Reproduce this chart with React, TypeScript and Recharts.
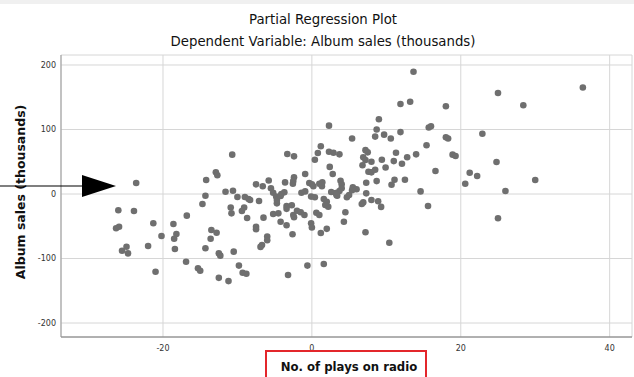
import { ScatterChart, Scatter, XAxis, YAxis, CartesianGrid } from 'recharts';

// residual values: x = plays on radio, y = album sales
const radioPlays = [
  13.65, 11.9, 13.2, 18, 2.3, 9, 8.7, 8.5, 9.7, 10.6, 11.9, 15.7, 16, 18, 18.3, 5.4, 15.4, 1.2, 0.8, 0.4,
  2.3, 2.9, 3.7, -3.3, -2.4, 7.2, 7.5, 6.9, 7.2, 6.8, 8, 9.4, 9.9, 11.3, 11, 12.1, 12.8, 14, 16.6, 2.4,
  2.8, -0.9, 7.6, 8, 8.5, 7.3, 8.7, 11.1, 10.7, 12.5, 14.6, -2.4, -2.5, -2.55, -3.6, -7.5, -6.6, -5.8, -5.5, -0.35,
  0, 1, 1.35, 0.2, 1.4, 3.85, 4, 4, 3.7, 5.5, 6, 5.4, 7.3, 2.6, 3.2, 3.4, -1.4, -0.9, -3.7, -4.1,
  -5.2, -4.8, -10.7, -12.9, -12.7, -14.2, -23.6, -11.6, -10.6, -14.3, -10, -9, -8.5, 25, 36.4, 28.4, 22.9, 18.9, 19.3, 24.8,
  21.2, 22.2, 20.6, 30, 26, 25, 15.6, 10.4, 7.2, 8, 8.9, 9.3, 6.7, 6.9, 4.5, 4.3, 4.7, 5, 3.3, 2,
  1.2, 1.6, 2, 2.2, 1.8, 0.6, 1, -0.1, 0, -0.6, 1.6, -3.2, -0.1, 0.4, -2.6, -3.4, -2.7, -3.4, -2.5, -2.4,
  -2, -1.5, -1, -4.2, -3.4, -5.2, -4.5, -4.7, -4.7, -4.2, -6.5, -7.5, -7.5, -6, -6, -6.7, -6.9, -7.1, -8.3, -26,
  -23.9, -26.3, -25.9, -25.5, -24.9, -24.7, -22, -21, -21.3, -20.2, -18.6, -18.5, -18.2, -18.4, -16.8, -16.9, -15.3, -15, -14.7, -13.5,
  -12.8, -13.6, -14.3, -12.5, -12.3, -12.5, -11.2, -10.5, -9.8, -9.3, -8.8, -10.9, -10.8, -9.4, -9.1, -8.7,
];

const albumSales = [
  189.6, 139.5, 143, 136, 106, 116, 100, 89, 92, 86, 96, 103, 105, 88, 86, 86, 75.5, 74, 63.5, 53,
  65.6, 64, 61.5, 62, 58.4, 68, 64.6, 57, 52.7, 44.5, 50, 53, 41, 64, 51, 47, 57, 61.5, 35.7, 42,
  31, 31, 34.6, 33.6, 37.7, 17.5, 20, 22, 14.4, 22, 4, 26, 20, 16, 18, 15, 12, 21, 9, 17,
  15, 16, 12, 12, 18, 20.6, 15, 9, 4.6, 10.4, 7.3, 5.7, 1, 3, 1.5, -2.6, 2, 4, 2.6, 0,
  2, -4, 61, 33.6, 29, 21.7, 17, 3.6, 5, -2.6, -4.6, -4.6, -7.8, 156.6, 165, 137.5, 93.5, 61, 59, 49.6,
  33, 28, 16, 21.7, 4.6, -37.7, -18.6, -75.5, -59.4, -9.3, -11.3, -20, -15.5, -13, -28.4, -43, -5, -1.5, -1.5, -54,
  -60.5, -7.8, -12, -19.7, -17, -29, -32.6, -45.4, -52, -111, -108.5, -125.6, -4, -5, -62.5, -18.6, -17.5, -23, -32.6, -36,
  -26, -28.4, -32.6, -43, -48.5, -31, -30, -14.5, -9.3, -3, -36.7, -50.7, -54.7, -66, -71.8, -79, -82, -10.9, -9.3, -25.3,
  -26.4, -53, -50.7, -88, -81.7, -92, -80.6, -120.5, -45.4, -65, -46.5, -69.3, -62, -85.3, -33.6, -105, -115, -119, -15.5, -55.8,
  -60, -69.3, -84.2, -92, -95.6, -130, -135, -89.4, -111, -122, -123.6, -21, -30, -26.4, -21, -37.2,
];

const xTicks = [-20, 0, 20, 40];
const yTicks = [-200, -100, 0, 100, 200];

const data = radioPlays.map((x, i) => ({ x, y: albumSales[i] }));

const FONT = '"DejaVu Sans", sans-serif';

const Dot = (props: any) => <circle cx={props.cx} cy={props.cy} r={3.3} fill="#6f6f6f" />;

const App = () => {
  return (
    <div style={{ position: 'absolute', left: 0, top: 0, width: 634, height: 377, background: '#fff', fontFamily: FONT }}>
      {/* light grey strip along the top edge of the screenshot */}
      <div style={{ position: 'absolute', left: 0, top: 0, width: 634, height: 4, background: '#f0f0f0' }} />

      <div style={{ position: 'absolute', top: 12, left: 0, width: 646, textAlign: 'center', fontSize: 13.3, color: '#111' }}>
        Partial Regression Plot
      </div>
      <div style={{ position: 'absolute', top: 34, left: 0, width: 646, textAlign: 'center', fontSize: 13.3, color: '#111' }}>
        Dependent Variable: Album sales (thousands)
      </div>

      <ScatterChart width={634} height={377} margin={{ top: 55, right: 2, bottom: 20, left: 0 }}>
        <CartesianGrid stroke="#d6d6d6" />
        <XAxis
          type="number"
          dataKey="x"
          domain={[-33.7, 43]}
          ticks={xTicks}
          height={20}
          tickLine={false}
          axisLine={{ stroke: '#777' }}
          tick={{ fontSize: 8, fill: '#333', fontFamily: FONT }}
        />
        <YAxis
          type="number"
          dataKey="y"
          domain={[-221.7, 215.5]}
          ticks={yTicks}
          width={61}
          tickLine={false}
          tickSize={3}
          axisLine={{ stroke: '#999' }}
          tick={{ fontSize: 8, fill: '#333', fontFamily: FONT }}
        />
        <Scatter data={data} shape={Dot} isAnimationActive={false} />
      </ScatterChart>

      <div
        style={{
          position: 'absolute',
          left: 20,
          top: 192,
          transform: 'translate(-50%, -50%) rotate(-90deg)',
          whiteSpace: 'nowrap',
          fontSize: 12.5,
          fontWeight: 'bold',
          color: '#111',
        }}
      >
        Album sales (thousands)
      </div>

      <div
        style={{
          position: 'absolute',
          left: 265,
          top: 350,
          width: 162,
          height: 30,
          border: '2px solid #e3262b',
          boxSizing: 'border-box',
        }}
      />
      <div
        style={{
          position: 'absolute',
          left: 268,
          top: 360,
          width: 162,
          textAlign: 'center',
          fontSize: 11.7,
          fontWeight: 'bold',
          color: '#111',
        }}
      >
        No. of plays on radio
      </div>

      <svg style={{ position: 'absolute', left: 0, top: 0 }} width={130} height={220}>
        <line x1={0} y1={186} x2={84} y2={186} stroke="#000" strokeWidth={1.2} />
        <polygon points="82,175 82,197 116,186" fill="#000" />
      </svg>
    </div>
  );
};

export default App;
